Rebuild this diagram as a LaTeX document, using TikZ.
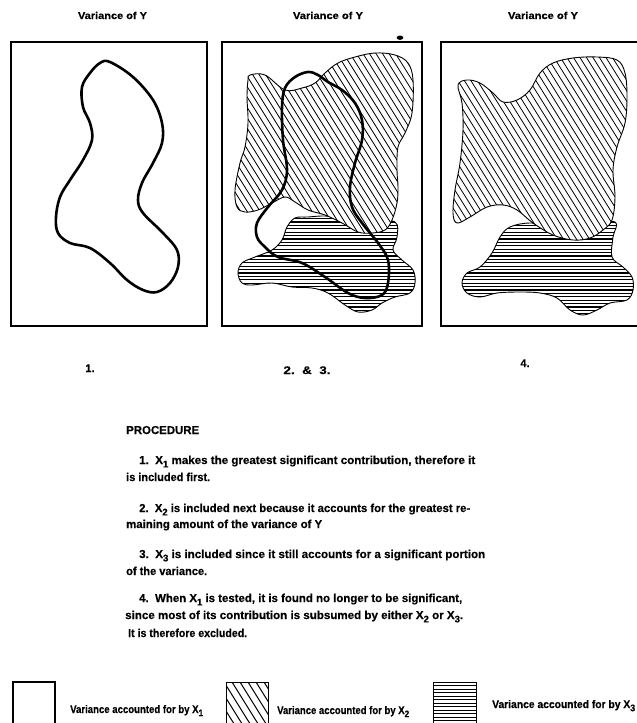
\documentclass[tikz,border=0pt]{standalone}
\usepackage{fontspec}
\setmainfont{Liberation Sans}
\newfontfamily\heavyfont{Liberation Sans Bold}[FakeBold=0.35]
\usepackage{graphicx}
\newcommand\xsub[1]{\raisebox{-0.55ex}{\fontsize{9.5}{9.5}\selectfont #1}}
\newcommand\fitw[2]{\resizebox{#1}{\height}{#2}}

\def\pXoneA{plot[smooth cycle, tension=0.6] coordinates {(110,62) (133,77) (153,100) (162,123) (162,143) (153,163) (142,183) (138,200) (143,213) (163,233) (177,250) (178,267) (170,283) (157,292) (143,290) (127,280) (110,263) (90,248) (70,243) (58,233) (56,217) (60,197) (70,180) (83,160) (92,140) (90,123) (83,107) (82,87) (90,73) (100,63)}}
\def\pXoneB{plot[smooth cycle, tension=0.6] coordinates {(308,72) (318,75) (328,82) (342,90) (355,103) (362,120) (362,140) (355,163) (350,187) (352,207) (362,223) (378,243) (388,260) (388,283) (382,295) (365,298) (348,293) (325,277) (302,263) (278,257) (265,247) (257,237) (257,223) (268,207) (282,190) (287,170) (283,140) (282,107) (285,88) (295,77)}}
\def\pXtwoB{plot[smooth cycle, tension=0.6] coordinates {(250,75) (265,75) (285,90) (302,88) (315,83) (325,73) (338,63) (355,57) (375,53) (395,55) (408,63) (413,80) (412,113) (405,133) (398,147) (397,170) (398,187) (397,203) (392,220) (385,230) (372,233) (358,232) (342,223) (325,215) (308,210) (295,202) (285,197) (272,203) (258,210) (245,212) (237,207) (235,190) (240,163) (245,147) (248,123) (247,97) (248,80)}}
\def\pXthreeB{plot[smooth cycle, tension=0.6] coordinates {(295,218) (308,217) (325,216) (345,218) (370,220) (395,222) (397,237) (393,250) (402,260) (413,270) (415,283) (410,293) (395,297) (382,303) (372,310) (358,312) (345,305) (328,293) (312,288) (292,287) (272,283) (252,285) (242,283) (238,273) (242,263) (255,257) (272,250) (282,240) (287,227)}}
\def\pXtwoC{plot[smooth cycle, tension=0.6] coordinates {(458,85) (467,80) (480,83) (493,93) (503,102) (517,100) (530,90) (540,73) (553,63) (573,58) (597,57) (617,60) (625,73) (627,97) (625,123) (617,147) (613,170) (615,197) (612,220) (603,230) (590,238) (573,240) (553,235) (533,223) (517,210) (503,205) (487,207) (470,217) (457,223) (453,213) (455,190) (460,163) (463,130) (462,103)}}
\def\pXthreeC{plot[smooth cycle, tension=0.6] coordinates {(510,227) (530,223) (557,226) (585,225) (615,222) (613,237) (612,257) (623,267) (632,277) (633,290) (627,300) (610,303) (597,310) (583,315) (570,310) (557,298) (540,293) (520,292) (497,293) (480,297) (467,293) (462,283) (467,273) (480,267) (492,253) (500,237)}}

\begin{document}
\begin{tikzpicture}[x=1pt,y=-1pt,
  panelbox/.style={line width=1.3pt},
  xonecurve/.style={line width=2.6pt, line join=round},
  blobline/.style={line width=0.9pt},
  hatchline/.style={line width=0.8pt},
  hline/.style={line width=1.1pt},
  titletext/.style={inner sep=0pt, anchor=base, font=\heavyfont\fontsize{10}{12}\selectfont},
  labeltext/.style={inner sep=0pt, anchor=base, font=\heavyfont\fontsize{11}{12}\selectfont},
  proctext/.style={inner sep=0pt, anchor=base west, font=\heavyfont\fontsize{11.5}{12}\selectfont},
  legtext/.style={inner sep=0pt, anchor=base west, font=\heavyfont\fontsize{11}{12}\selectfont}]
\path[use as bounding box] (0,0) rectangle (637,723);

% titles
\node[titletext] (t1) at (112.5,19) {\fitw{69pt}{Variance of Y}};
\node[titletext] (t2) at (328,19) {\fitw{70pt}{Variance of Y}};
\node[titletext] (t3) at (543,19) {\fitw{70pt}{Variance of Y}};

% panel boxes
\draw[panelbox] (11,42) rectangle (207,326);
\draw[panelbox] (222,42) rectangle (422,326);
\draw[panelbox] (441,42) rectangle (650,326);

% panel 1
\draw[xonecurve] \pXoneA;

% panel 2
\fill[white] \pXthreeB;
\begin{scope}
  \clip \pXthreeB;
  \foreach \yy in {205,208.4,...,330} \draw[hline] (220,\yy) -- (420,\yy);
\end{scope}
\draw[blobline] \pXthreeB;
\fill[white] \pXtwoB;
\begin{scope}
  \clip \pXtwoB;
  \foreach \cc in {-250,-243.5,...,700} \draw[hatchline] (\cc,40) -- ++(175,280);
\end{scope}
\draw[blobline] \pXtwoB;
\draw[xonecurve] \pXoneB;
\fill (400,37.7) ellipse (3.3pt and 2.2pt);

% panel 3
\fill[white] \pXthreeC;
\begin{scope}
  \clip \pXthreeC;
  \foreach \yy in {205,208.4,...,330} \draw[hline] (440,\yy) -- (640,\yy);
\end{scope}
\draw[blobline] \pXthreeC;
\fill[white] \pXtwoC;
\begin{scope}
  \clip \pXtwoC;
  \foreach \cc in {-250,-243.5,...,700} \draw[hatchline] (\cc,40) -- ++(175,280);
\end{scope}
\draw[blobline] \pXtwoC;

% panel labels
\node[labeltext] (l1) at (90,372) {1.};
\node[labeltext] (l2) at (307,374) {\fitw{47pt}{2.\ \ \&\ \ 3.}};
\node[labeltext] (l3) at (525,367) {4.};

% procedure
\node[proctext] (p0) at (126,434) {\fitw{73pt}{PROCEDURE}};
\node[proctext] (p1) at (139,464) {\fitw{336pt}{1.\ \ X\xsub{1} makes the greatest significant contribution, therefore it}};
\node[proctext] (p1b) at (126,481) {\fitw{84pt}{is included first.}};
\node[proctext] (p2) at (139,512) {\fitw{331pt}{2.\ \ X\xsub{2} is included next because it accounts for the greatest re-}};
\node[proctext] (p2b) at (126,528) {\fitw{196pt}{maining amount of the variance of Y}};
\node[proctext] (p3) at (139,558) {\fitw{346pt}{3.\ \ X\xsub{3} is included since it still accounts for a significant portion}};
\node[proctext] (p3b) at (126,575) {\fitw{81pt}{of the variance.}};
\node[proctext] (p4) at (139,602) {\fitw{323pt}{4.\ \ When X\xsub{1} is tested, it is found no longer to be significant,}};
\node[proctext] (p4b) at (125,619) {\fitw{338pt}{since most of its contribution is subsumed by either X\xsub{2} or X\xsub{3}.}};
\node[proctext] (p4c) at (128,637) {\fitw{119pt}{It is therefore excluded.}};

% legend
\draw[line width=2pt] (13,682) rectangle (55,735);
\node[legtext] (g1) at (70,713) {\fitw{133pt}{Variance accounted for by X\xsub{1}}};
\begin{scope}
  \clip (226,682) rectangle (268,735);
  \foreach \cc in {120,128,...,280} \draw[line width=1pt] (\cc,682) -- ++(28,45);
\end{scope}
\draw[line width=1pt] (226,682) rectangle (268,735);
\node[legtext] (g2) at (277,714) {\fitw{132pt}{Variance accounted for by X\xsub{2}}};
\begin{scope}
  \clip (433,682) rectangle (476,735);
  \foreach \yy in {682,685.5,...,735} \draw[line width=0.9pt] (430,\yy) -- (480,\yy);
\end{scope}
\draw[line width=1pt] (433,682) rectangle (476,735);
\node[legtext] (g3) at (492,708) {\fitw{143pt}{Variance accounted for by X\xsub{3}}};
\end{tikzpicture}
\end{document}
